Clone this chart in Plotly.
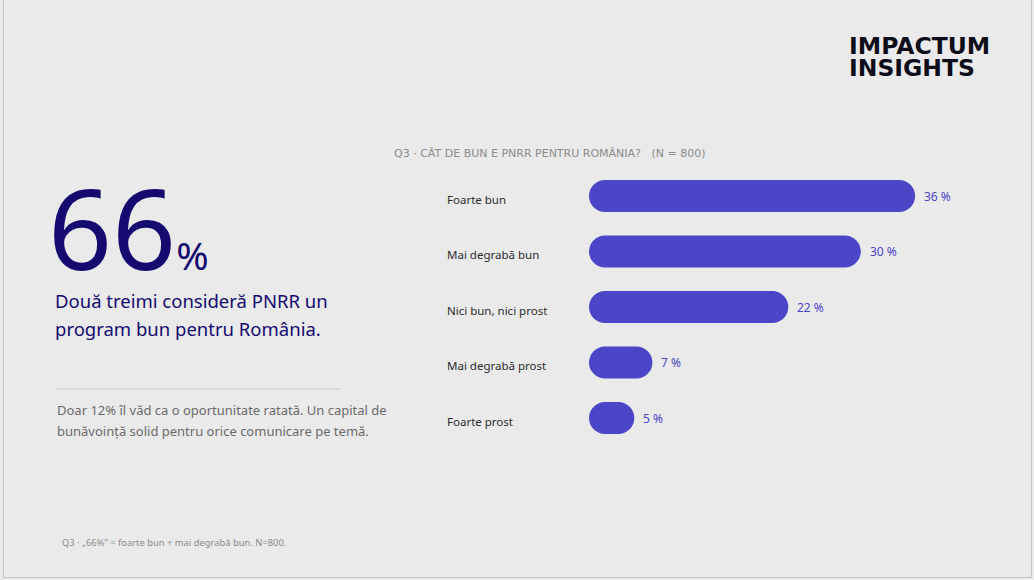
import plotly.graph_objects as go

W, H = 1034, 580

categories = [
    "Foarte bun",
    "Mai degrabă bun",
    "Nici bun, nici prost",
    "Mai degrabă prost",
    "Foarte prost",
]
values = [36, 30, 22, 7, 5]
value_labels = ["36 %", "30 %", "22 %", "7 %", "5 %"]

headline_number = "66"
headline_lines = ["Două treimi consideră PNRR un", "program bun pentru România."]
body_lines = [
    "Doar 12% îl văd ca o oportunitate ratată. Un capital de",
    "bunăvoință solid pentru orice comunicare pe temă.",
]
chart_title = "Q3 · CÂT DE BUN E PNRR PENTRU ROMÂNIA?   (N = 800)"
footnote = "Q3 · „66%” = foarte bun + mai degrabă bun. N=800."
logo_lines = ["IMPACTUM", "INSIGHTS"]

BG = "#eaeaea"
BAR = "#4b45c8"
NAVY = "#150a70"
FONT = "Noto Sans"


def px(x):
    return x / W


def py(y):
    return 1 - y / H


# bar geometry: bars start at pixel 589, about 9.06 px per percentage point
x0_px, x1_px = 589, 1000
px_per_pct = 9.06
x_max = (x1_px - x0_px) / px_per_pct

fig = go.Figure()
fig.add_trace(go.Bar(
    y=categories, x=values, base=[0] * len(values),
    orientation="h", marker=dict(color=BAR, cornerradius="50%", line=dict(width=0)),
    hovertemplate="%{y}: %{x} %<extra></extra>",
    showlegend=False,
))

annotations = []
for cat, v, lab in zip(categories, values, value_labels):
    annotations.append(dict(
        x=px(445), xref="paper", y=cat, yref="y", yshift=-3,
        text=cat, xanchor="left", showarrow=False,
        font=dict(family=FONT, size=11.5, color="#2b2b2b"),
    ))
    annotations.append(dict(
        x=v, xref="x", y=cat, yref="y", xshift=7,
        text=lab, xanchor="left", showarrow=False,
        font=dict(family=FONT, size=12, color=BAR),
    ))

annotations += [
    dict(x=px(392), y=py(153), text=chart_title, xanchor="left", yanchor="middle",
         font=dict(family="DejaVu Sans", size=11, color="#8c8c8c")),
    dict(x=px(46), y=py(305),
         text=f'{headline_number}<span style="font-size:39px">%</span>',
         xanchor="left", yanchor="bottom",
         font=dict(family=FONT, size=112, color=NAVY)),
    dict(x=px(60), y=py(542), text=footnote, xanchor="left", yanchor="middle",
         font=dict(family=FONT, size=9.4, color="#8a8a8a")),
]
for i, line in enumerate(headline_lines):
    annotations.append(dict(x=px(53), y=py(300 + 28 * i), text=line, xanchor="left", yanchor="middle",
                            font=dict(family=FONT, size=18.5, color=NAVY)))
for i, line in enumerate(body_lines):
    annotations.append(dict(x=px(55), y=py(410 + 21 * i), text=line, xanchor="left", yanchor="middle",
                            font=dict(family=FONT, size=13, color="#6a6a6a")))
for i, line in enumerate(logo_lines):
    annotations.append(dict(x=px(847), y=py(46 + 22 * i), text=f"<b>{line}</b>", xanchor="left",
                            yanchor="middle", font=dict(family="DejaVu Sans", size=23.5, color="#0d0d1a")))
for a in annotations[2 * len(categories):]:
    a.update(xref="paper", yref="paper", showarrow=False)

fig.update_layout(
    width=W, height=H,
    margin=dict(l=0, r=0, t=0, b=0),
    paper_bgcolor=BG, plot_bgcolor=BG,
    bargap=0.423,
    xaxis=dict(domain=[px(x0_px), px(x1_px)], range=[0, x_max],
               visible=False, fixedrange=True),
    yaxis=dict(domain=[py(445.75), py(168.25)], autorange="reversed",
               type="category", visible=False, fixedrange=True),
    annotations=annotations,
    shapes=[
        dict(type="line", xref="paper", yref="paper", x0=px(57), x1=px(341),
             y0=py(389), y1=py(389), line=dict(color="#c6c6c6", width=1)),
        dict(type="rect", xref="paper", yref="paper", x0=px(3.5), x1=px(1031.5),
             y0=py(577.5), y1=py(-1), line=dict(color="#c4c4c4", width=1)),
    ],
    showlegend=False,
)

fig.write_html("out.html", config={"displayModeBar": False},
               post_script="document.body.style.margin='0';")
